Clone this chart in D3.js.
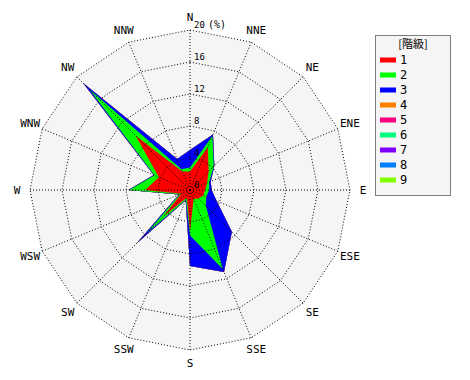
<!DOCTYPE html>
<html><head><meta charset="utf-8">
<script src="https://cdn.jsdelivr.net/npm/d3@7"></script>
<style>body{margin:0;background:#fff}svg{display:block}</style>
</head><body>
<svg id="chart" width="470" height="380"></svg>
<script>
const directions = ["N","NNE","NE","ENE","E","ESE","SE","SSE","S","SSW","SW","WSW","W","WNW","NW","NNW"];
const classLabels = ["1","2","3","4","5","6","7","8","9"];
const classColors = ["#ff0000","#00ff00","#0000ff","#ff8000","#ff0080","#00ff80","#8000ff","#0080ff","#80ff00"];
// frequency (%) per class, per direction (N..NNW clockwise)
const class1 = [2.3,5.8,3.3,2.3,1.9,1.8,1.5,1.2,5.2,1.0,4.7,1.2,5.6,4.2,9.6,2.5];
const class2 = [0.5,1.5,0.9,0.3,0.5,0.4,1.3,9.5,0.5,0.3,2.9,0.2,2.0,0.6,8.2,0.3];
const class3 = [2.2,0.2,0.1,0.2,0.3,1.4,4.6,0.4,3.8,0.1,1.8,0.1,0.1,0.1,1.1,1.4];
const class4 = [0,0,0,0,0,0,0,0,0,0,0,0,0,0,0,0];
const class5 = [0,0,0,0,0,0,0,0,0,0,0,0,0,0,0,0];
const class6 = [0,0,0,0,0,0,0,0,0,0,0,0,0,0,0,0];
const class7 = [0,0,0,0,0,0,0,0,0,0,0,0,0,0,0,0];
const class8 = [0,0,0,0,0,0,0,0,0,0,0,0,0,0,0,0];
const class9 = [0,0,0,0,0,0,0,0,0,0,0,0,0,0,0,0];
const radialTicks = [4,8,12,16,20];
const tickLabels = ["0","4","8","12","16","20"];

const classSeries = [class1,class2,class3,class4,class5,class6,class7,class8,class9];
const table = directions.map((d,i)=>{
  const row = {dir:d};
  classLabels.forEach((c,k)=>row[c]=classSeries[k][i]);
  return row;
});

const svg = d3.select("#chart");
const cx = 190, cy = 190, R = 160;
const FONT = "'DejaVu Sans Mono', monospace";
const r = d3.scaleLinear().domain([0,20]).range([0,R]);
const ang = d3.scaleLinear().domain([0,directions.length]).range([0,2*Math.PI]);
const g = svg.append("g").attr("transform",`translate(${cx},${cy})`);

const ringPath = v => d3.lineRadial().angle((d,i)=>ang(i)).radius(()=>r(v)).curve(d3.curveLinearClosed)(directions);

// background
g.append("path").attr("d",ringPath(20)).attr("fill","#f5f5f5").attr("stroke","none");

// stacked data polygons
const stacked = d3.stack().keys(classLabels)(table);
const area = d3.lineRadial().angle((d,i)=>ang(i)).radius(d=>r(d[1])).curve(d3.curveLinearClosed);
for (let k = stacked.length-1; k>=0; k--) {
  g.append("path").attr("d",area(stacked[k])).attr("fill",classColors[k]).attr("stroke","none");
}

// grid rings
radialTicks.forEach(v=>{
  g.append("path").attr("d",ringPath(v)).attr("fill","none")
   .attr("stroke","#000").attr("stroke-width",1).attr("stroke-dasharray","1,2");
});
// spokes
directions.forEach((d,i)=>{
  const a = ang(i);
  g.append("line").attr("x1",0).attr("y1",0)
   .attr("x2",Math.sin(a)*r(20)).attr("y2",-Math.cos(a)*r(20))
   .attr("stroke","#000").attr("stroke-width",1).attr("stroke-dasharray","1,2");
});

// tick labels
[0].concat(radialTicks).forEach((v,i)=>{
  g.append("text").attr("x",4).attr("y",-r(v)-2)
   .attr("font-family",FONT).attr("font-size",9).attr("fill","#000")
   .text(tickLabels[i]);
});
g.append("text").attr("x",18).attr("y",-r(20)-2)
 .attr("font-family",FONT).attr("font-size",10).attr("fill","#000").text("(%)");

// direction labels
directions.forEach((d,i)=>{
  const a = ang(i), rr = R+13;
  g.append("text").attr("x",Math.sin(a)*rr).attr("y",-Math.cos(a)*rr)
   .attr("text-anchor","middle").attr("dominant-baseline","central")
   .attr("font-family",FONT).attr("font-size",11).attr("fill","#000").text(d);
});

// legend
const lg = svg.append("g").attr("transform","translate(375,35)");
lg.append("rect").attr("x",0.5).attr("y",0.5).attr("width",75).attr("height",160)
  .attr("fill","#f5f5f5").attr("stroke","#000").attr("stroke-dasharray","1,1");
lg.append("text").attr("x",38).attr("y",13).attr("text-anchor","middle")
  .attr("font-family","'Noto Sans CJK JP', sans-serif").attr("font-size",11).text("[階級]");
classLabels.forEach((c,k)=>{
  const y = 25 + k*15;
  lg.append("rect").attr("x",5).attr("y",y-2.5).attr("width",16).attr("height",5).attr("fill",classColors[k]);
  lg.append("text").attr("x",25).attr("y",y).attr("dominant-baseline","central")
    .attr("font-family",FONT).attr("font-size",12).text(c);
});
</script>
</body></html>
